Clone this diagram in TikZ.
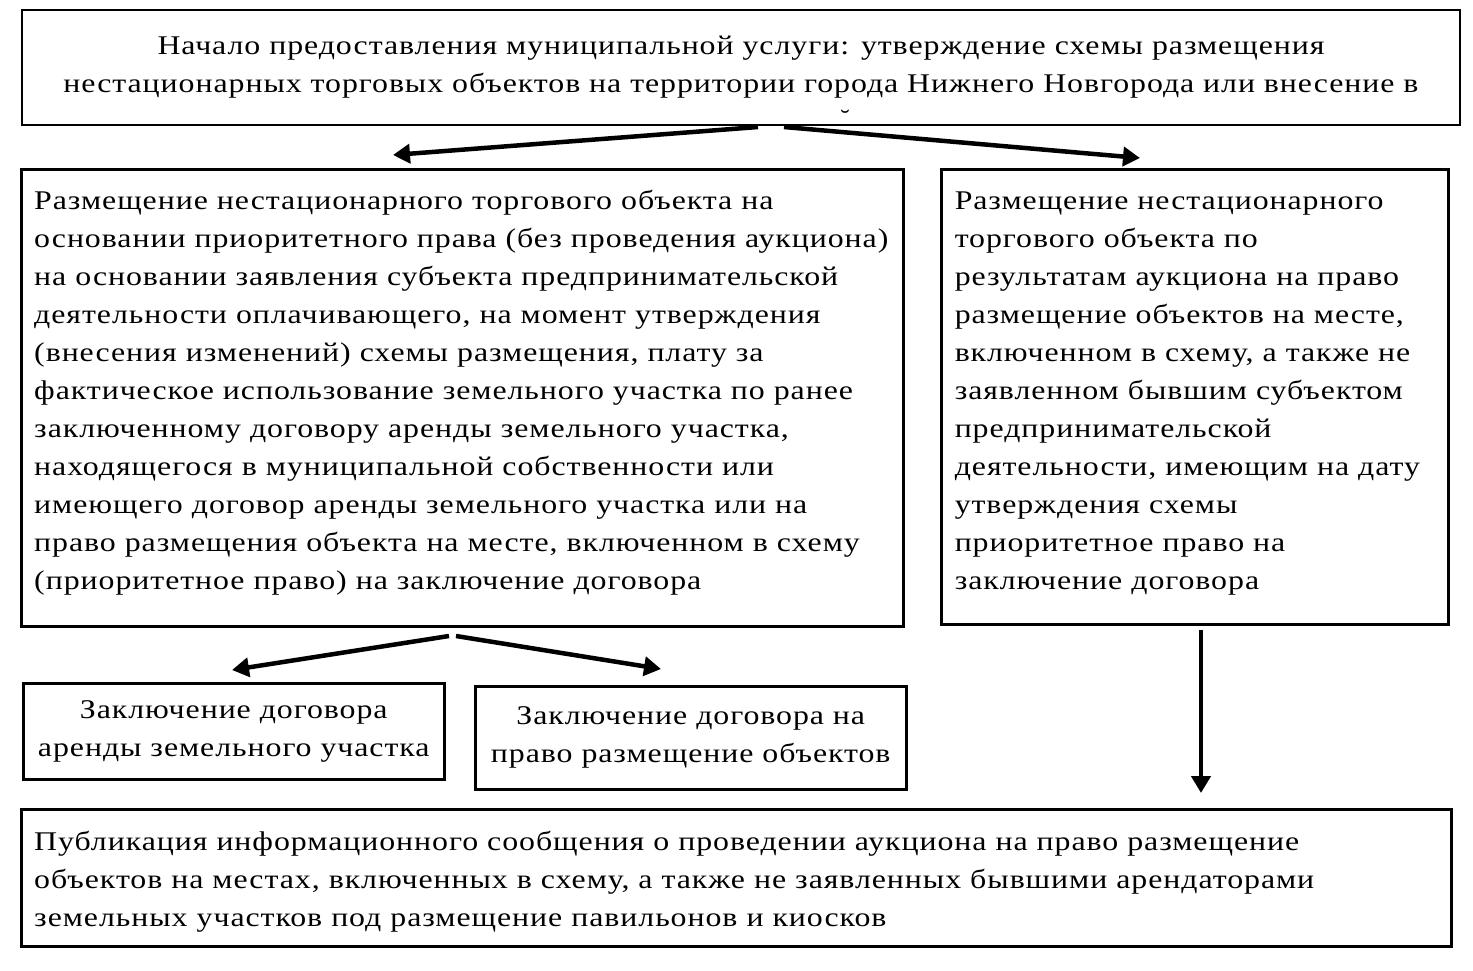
\documentclass[tikz,border=0pt]{standalone}
\usepackage{fontspec}
\setmainfont{Liberation Serif}[FakeStretch=1.18, LetterSpace=3.5]
\usetikzlibrary{arrows.meta}
\begin{document}
\begin{tikzpicture}[x=1pt,y=-1pt,
  box/.style={draw=black, line width=2.5pt, inner sep=0pt, font=\fontsize{27}{38}\selectfont},
  txt/.style={inner sep=0pt, font=\fontsize{27}{38}\selectfont},
  arr/.style={line width=4.5pt, -{Triangle[length=17pt,width=19pt]}}]
\useasboundingbox (0,0) rectangle (1473,970);
\fill[white] (0,0) rectangle (1473,970);
% top box
\node[box, minimum width=1438pt, minimum height=115pt, align=center] (T) at (741,67.5)
 {Начало предоставления муниципальной услуги: утверждение схемы размещения\\
  нестационарных торговых объектов на территории города Нижнего Новгорода или внесение в};
\node[font=\fontsize{24}{24}\selectfont, inner sep=0pt] (br) at (845,118) {˘};
% left big box
\node[box, minimum width=882pt, minimum height=457pt, anchor=north west] (L) at (20,168) {};
\node[txt, text width=856pt, align=left] (Lt) at ([yshift=5pt]L.center)
 {Размещение нестационарного торгового объекта на\\
  основании приоритетного права (без проведения аукциона)\\
  на основании заявления субъекта предпринимательской\\
  деятельности оплачивающего, на момент утверждения\\
  (внесения изменений) схемы размещения, плату за\\
  фактическое использование земельного участка по ранее\\
  заключенному договору аренды земельного участка,\\
  находящегося в муниципальной собственности или\\
  имеющего договор аренды земельного участка или на\\
  право размещения объекта на месте, включенном в схему\\
  (приоритетное право) на заключение договора};
% right box
\node[box, minimum width=507pt, minimum height=455pt, anchor=north west] (R) at (940,168) {};
\node[txt, text width=480pt, align=left] (Rt) at ([yshift=3.5pt]R.center)
 {Размещение нестационарного\\
  торгового объекта по\\
  результатам аукциона на право\\
  размещение объектов на месте,\\
  включенном в схему, а также не\\
  заявленном бывшим субъектом\\
  предпринимательской\\
  деятельности, имеющим на дату\\
  утверждения схемы\\
  приоритетное право на\\
  заключение договора};
% box A
\node[box, minimum width=421pt, minimum height=96pt, anchor=north west, align=center] (A) at (22,682)
 {Заключение договора\\аренды земельного участка};
% box B
\node[box, minimum width=431pt, minimum height=103pt, anchor=north west, align=center] (B) at (474,685)
 {Заключение договора на\\право размещение объектов};
% bottom box
\node[box, minimum width=1430pt, minimum height=137pt, anchor=north west] (P) at (20,808) {};
\node[txt, text width=1404pt, align=left] (Pt) at ([yshift=-4pt]P.center)
 {Публикация информационного сообщения о проведении аукциона на право размещение\\
  объектов на местах, включенных в схему, а также не заявленных бывшими арендаторами\\
  земельных участков под размещение павильонов и киосков};
% arrows
\coordinate (t1) at (758,127);
\coordinate (t2) at (784,127);
\coordinate (l1) at (393,155);
\coordinate (r1) at (1140,158);
\draw[arr] (t1) -- (l1);
\draw[arr] (t2) -- (r1);
\coordinate (m1) at (449,636);
\coordinate (m2) at (456,636);
\coordinate (a1) at (232,670);
\coordinate (b1) at (661,669);
\draw[arr] (m1) -- (a1);
\draw[arr] (m2) -- (b1);
\coordinate (v1) at (1201,630);
\coordinate (v2) at (1201,793);
\draw[arr] (v1) -- (v2);
\end{tikzpicture}
\end{document}
